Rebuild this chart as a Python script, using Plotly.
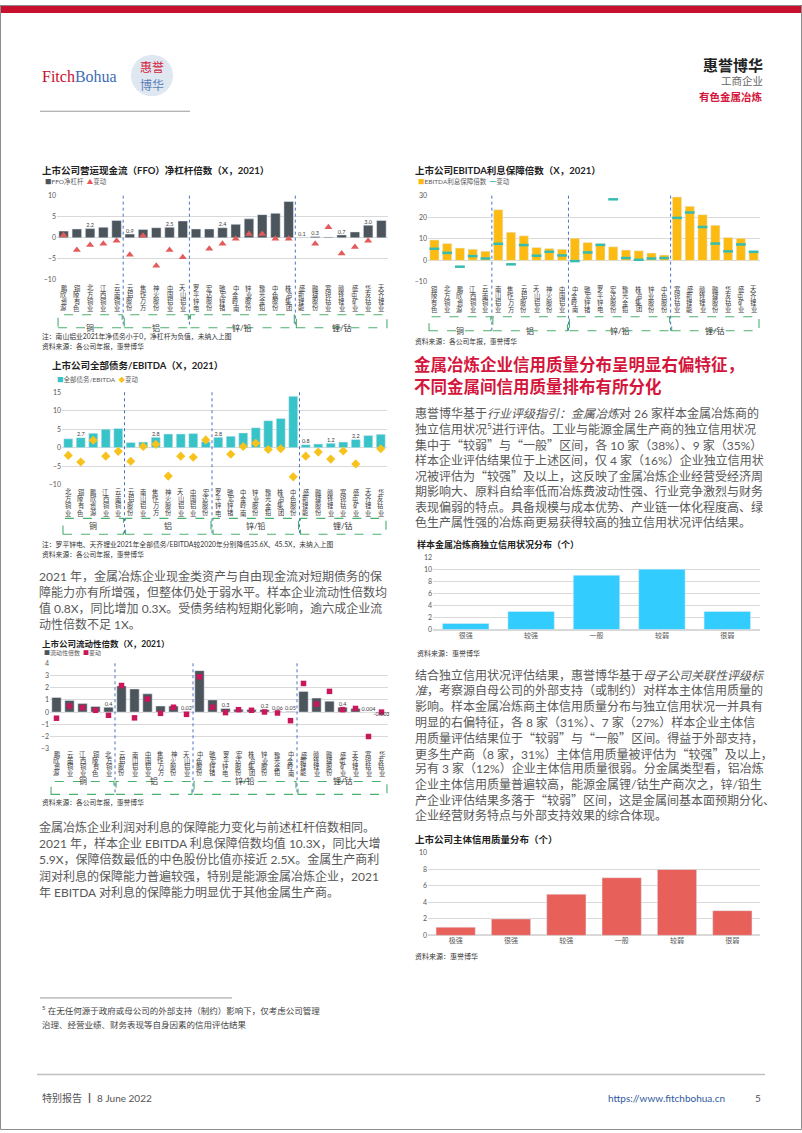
import plotly.graph_objects as go

W, H = 802, 1133
def X(px): return px / W
def Y(py): return 1 - py / H

CJK = "Lato, Noto Sans CJK SC, sans-serif"

# ---------------- data ----------------
ffo_names = ["鹏欣资源","铜陵有色","北方铜业","江西铜业","云南铜业",
             "云铝股份","焦作万方","神火股份","中国铝业","天山铝业",
             "罗平锌电","宏达股份","驰宏锌锗","中金岭南","锌业股份","豫光金铅","中色股份","株冶集团",
             "盛新锂能","融捷股份","寒锐钴业","赣锋锂业","盛屯矿业","华友钴业","天齐锂业"]
ffo_values = [1.6,2.1,2.2,2.5,4.1, 0.9,2.0,2.4,2.5,4.0, 2.1,2.1,2.4,3.2,4.5,5.5,5.8,8.6, 0.1,0.3,0.2,0.7,1.4,3.0,4.1]
ffo_change = [0.6,-2.9,-1.7,-1.4,-0.7, -4.0,0.5,-6.6,-2.9,-4.6, None,-2.6,-1.4,-0.2,0.9,0.9,-0.2,-0.2, None,-1.4,2.5,-3.7,-2.2,-0.7,None]
ffo_labelled = ["北方铜业","云铝股份","中国铝业","驰宏锌锗","盛新锂能","融捷股份","赣锋锂业","华友钴业"]
ffo_groups = [("铜",5),("铝",5),("锌/铅",8),("锂/钴",7)]

ebitda_names = ["铜陵有色","北方铜业","鹏欣资源","江西铜业","云南铜业",
                "南山铝业","焦作万方","云铝股份","天山铝业","神火股份","中国铝业",
                "中金岭南","驰宏锌锗","罗平锌电","宏达股份","豫光金铅","株冶集团","锌业股份","中色股份",
                "寒锐钴业","盛新锂能","赣锋锂业","融捷股份","华友钴业","盛屯矿业","天齐锂业"]
ebitda_values = [9.5,7.8,5.7,5.2,4.3, 23.5,13.1,11.4,6.0,5.5,5.2, 10.3,8.3,7.7,6.3,4.8,4.5,3.4,2.5, 29.4,25.1,21.2,16.3,10.6,10.3,4.2]
ebitda_change = [5.4,3.5,-2.9,2.0,0.9, 7.7,-1.8,7.1,2.2,4.0,2.3, -0.3,3.7,7.2,28.3,1.1,0.3,0.9,1.1, 19.7,22.2,15.5,7.8,4.2,7.4,4.0]
ebitda_groups = [("铜",5),("铝",6),("锌/铅",8),("锂/钴",7)]

debt_names = ["北方铜业","铜陵有色","鹏欣资源","江西铜业","云南铜业",
              "云铝股份","南山铝业","焦作万方","神火股份","天山铝业","中国铝业","宏达股份",
              "罗平锌电","驰宏锌锗","中金岭南","锌业股份","豫光金铅","株冶集团","中色股份",
              "盛新锂能","融捷股份","赣锋锂业","寒锐钴业","盛屯矿业","天齐锂业","华友钴业"]
debt_values = [2.4,2.7,3.9,5.0,5.2, 1.4,1.5,2.8,3.7,3.7,3.8,1.6, 2.8,3.1,4.0,5.4,7.3,7.9,13.9, 0.8,1.0,1.2,1.5,2.2,3.3,3.6]
debt_change = [-2.1,-3.9,2.0,-2.3,-1.0, -3.7,0.3,0.9,-7.7,-2.3,-2.6,2.1, None,-1.8,0.3,1.2,-0.5,-0.3,-7.9, -2.3,-1.2,-3.1,-0.9,-4.4,None,-0.3]
debt_labelled = ["铜陵有色","焦作万方","罗平锌电","盛新锂能","赣锋锂业","盛屯矿业"]
debt_groups = [("铜",5),("铝",7),("锌/铅",7),("锂/钴",7)]

liq_names = ["鹏欣资源","云南铜业","江西铜业","铜陵有色","北方铜业",
             "云铝股份","南山铝业","中国铝业","焦作万方","神火股份","天山铝业",
             "中色股份","驰宏锌锗","罗平锌电","宏达股份","株冶集团","锌业股份","豫光金铅","中金岭南",
             "盛新锂能","赣锋锂业","融捷股份","盛屯矿业","天齐锂业","寒锐钴业","华友钴业"]
liq_values = [1.2,0.96,0.7,0.47,0.4, 2.15,1.9,1.5,0.5,0.5,0.02, 3.4,1.0,0.3,0.23,0.22,0.2,0.06,0.05, 1.7,1.15,0.9,0.4,0.3,0.004,-0.003]
liq_change = [-0.5,0.5,0.37,0.15,-0.26, 2.18,-0.47,1.07,-0.1,0.4,-0.18, 2.9,0.4,-0.04,0.2,0.15,0.01,-0.07,-0.7, 2.35,0.66,1.7,0.2,0.3,-2.0,0.0]
liq_labelled = ["北方铜业","天山铝业","罗平锌电","锌业股份","豫光金铅","中金岭南","盛屯矿业","寒锐钴业","华友钴业"]
liq_groups = [("铜",5),("铝",6),("锌/铅",8),("锂/钴",7)]

sca_cats = ["很强","较强","一般","较弱","很弱"]
sca_counts = [1,3,9,10,3]
idr_cats = ["极强","很强","较强","一般","较弱","很弱"]
idr_counts = [1,2,5,7,8,3]

fig = go.Figure()
annotations = []
shapes = []
layout_axes = {}

def ax_names(n):
    s = "" if n == 1 else str(n)
    return "xaxis" + s, "yaxis" + s, "x" + s, "y" + s

QL = '<span style="font-family:Noto Sans CJK SC">“</span>'
QR = '<span style="font-family:Noto Sans CJK SC">”</span>'

def add_text(px, py, text, size=12, color="#595959", anchor="left", family=CJK, yanchor="middle"):
    text = text.replace("“", QL).replace("”", QR)
    annotations.append(dict(x=X(px), y=Y(py), xref="paper", yref="paper", text=text,
                            showarrow=False, xanchor=anchor, yanchor=yanchor,
                            font=dict(size=size, color=color, family=family)))

def company_chart(n, names, values, changes, labelled, groups, bar_color, mk, yrange, dtick,
                  xpx, ypx, label_top, pitch, box_top, box_bot):
    xa, ya, xr, yr = ax_names(n)
    layout_axes[xa] = dict(domain=[X(xpx[0]), X(xpx[1])], anchor=yr, type="category",
                           showticklabels=False, showgrid=False, zeroline=False, showline=False,
                           range=[-0.5, len(names) - 0.5], fixedrange=True)
    layout_axes[ya] = dict(domain=[Y(ypx[1]), Y(ypx[0])], anchor=xr, range=yrange, dtick=dtick,
                           gridcolor="#d9d9d9", gridwidth=1, zeroline=True, zerolinecolor="#d9d9d9",
                           zerolinewidth=1, showline=False, ticks="",
                           tickfont=dict(size=7, color="#595959", family=CJK), fixedrange=True)
    fig.add_trace(go.Bar(x=names, y=values, marker_color=bar_color, width=0.72, xaxis=xr, yaxis=yr,
                         showlegend=False))
    fig.add_trace(go.Scatter(x=names, y=changes, mode="markers", marker=mk, xaxis=xr, yaxis=yr,
                             showlegend=False, cliponaxis=False))
    if labelled:
        lx = [nm for nm in names if nm in labelled]
        lv = [v for nm, v in zip(names, values) if nm in labelled]
        fig.add_trace(go.Scatter(x=lx, y=lv, mode="text", text=[str(v) for v in lv],
                                 textposition=["top center" if v >= 0 else "bottom center" for v in lv],
                                 textfont=dict(size=5.5, color="#404040", family=CJK),
                                 xaxis=xr, yaxis=yr, showlegend=False, cliponaxis=False))
    # vertical category labels, one character per row
    for nm in names:
        for k, ch in enumerate(nm):
            annotations.append(dict(x=nm, xref=xr, y=Y(label_top + pitch * (k + 0.5)), yref="paper",
                                    text=ch, showarrow=False, xanchor="center", yanchor="middle",
                                    font=dict(size=6.3, color="#404040", family=CJK)))
    start = 0
    for gi, (g, cnt) in enumerate(groups):
        end = start + cnt - 1
        shapes.append(dict(type="rect", xref=xr, yref="paper", x0=start - 0.42, x1=end + 0.42,
                           y0=Y(box_bot), y1=Y(box_top), line=dict(color="#4cb06e", width=1.1, dash="dash")))
        annotations.append(dict(x=(start + end) / 2, xref=xr, y=Y((box_top + box_bot) / 2), yref="paper",
                                text=g, showarrow=False, font=dict(size=8, color="#333", family=CJK)))
        if gi < len(groups) - 1:
            shapes.append(dict(type="line", xref=xr, yref="paper", x0=end + 0.5, x1=end + 0.5,
                               y0=Y(ypx[0]), y1=Y(box_bot), line=dict(color="#4a72c8", width=1, dash="dot")))
        start = end + 1

def dist_chart(n, cats, counts, color, yrange, xpx, ypx):
    xa, ya, xr, yr = ax_names(n)
    layout_axes[xa] = dict(domain=[X(xpx[0]), X(xpx[1])], anchor=yr, type="category", showgrid=False,
                           showline=False, ticks="", tickfont=dict(size=7, color="#595959", family=CJK),
                           fixedrange=True)
    layout_axes[ya] = dict(domain=[Y(ypx[1]), Y(ypx[0])], anchor=xr, range=yrange, dtick=2,
                           gridcolor="#d9d9d9", zeroline=True, zerolinecolor="#d9d9d9", showline=False,
                           ticks="", tickfont=dict(size=7, color="#595959", family=CJK), fixedrange=True)
    fig.add_trace(go.Bar(x=cats, y=counts, marker_color=color, width=0.71, xaxis=xr, yaxis=yr,
                         showlegend=False))

company_chart(1, ffo_names, ffo_values, ffo_change, ffo_labelled, ffo_groups, "#4d555c",
              dict(symbol="triangle-up", size=7, color="#e35b5b"), [-10, 10], 5,
              (57, 388), (192, 277), 282, 6.5, 312, 325)
company_chart(2, ebitda_names, ebitda_values, ebitda_change, [], ebitda_groups, "#fdbb12",
              dict(symbol="line-ew", size=7, line=dict(color="#36bdb0", width=2.5)), [-10, 30], 10,
              (428, 760), (192, 279), 283, 6.7, 314, 328)
company_chart(3, debt_names, debt_values, debt_change, debt_labelled, debt_groups, "#38c3c8",
              dict(symbol="diamond", size=7, color="#f7c21b"), [-10, 15], 5,
              (62, 387), (390, 483), 487, 7.0, 517, 533)
company_chart(4, liq_names, liq_values, liq_change, liq_labelled, liq_groups, "#4d555c",
              dict(symbol="square", size=5.5, color="#c8175a"), [-3, 4], 1,
              (50, 388), (663, 749), 752, 6.0, 782, 795)
dist_chart(5, sca_cats, sca_counts, "#33ccff", [0, 12], (433, 760), (556, 629))
dist_chart(6, idr_cats, idr_counts, "#e8605a", [0, 10], (428, 760), (854, 937))

# ---------------- chart titles, legends, notes ----------------
TC = "#222222"
add_text(40, 167, "<b>上市公司营运现金流（FFO）净杠杆倍数（X，2021）</b>", 9.5, TC)
add_text(43, 178, '<span style="color:#4d555c">■</span>FFO净杠杆  <span style="color:#e35b5b">▲</span>变动', 6.5, "#595959")
add_text(40, 334, "注：南山铝业2021年净债务小于0，净杠杆为负值，未纳入上图", 6.8, "#333")
add_text(40, 344, "资料来源：各公司年报，惠誉博华", 6.8, "#333")

add_text(413, 167, "<b>上市公司EBITDA利息保障倍数（X，2021）</b>", 9.5, TC)
add_text(416, 178, '<span style="color:#fdbb12">■</span>EBITDA利息保障倍数  <span style="color:#36bdb0">━</span>变动', 6.5, "#595959")
add_text(413, 339, "资料来源：各公司年报，惠誉博华", 6.8, "#333")

add_text(50, 363, "<b>上市公司全部债务/EBITDA（X，2021）</b>", 9.5, TC)
add_text(55, 377, '<span style="color:#38c3c8">■</span>全部债务/EBITDA  <span style="color:#f7c21b">◆</span>变动', 6.5, "#595959")
add_text(40, 543, "注：罗平锌电、天齐锂业2021年全部债务/EBITDA较2020年分别降低35.6X、45.5X，未纳入上图", 6.8, "#333")
add_text(40, 553, "资料来源：各公司年报，惠誉博华", 6.8, "#333")

add_text(40, 644, "<b>上市公司流动性倍数（X，2021）</b>", 8.5, TC)
add_text(42, 653, '<span style="color:#4d555c">■</span>流动性倍数  <span style="color:#c8175a">■</span>变动', 6, "#595959")
add_text(40, 803, "资料来源：各公司年报，惠誉博华", 6.8, "#333")

add_text(415, 543, "<b>样本金属冶炼商独立信用状况分布（个）</b>", 9, TC)
add_text(415, 653, "资料来源：惠誉博华", 7, "#333")
add_text(413, 840, "<b>上市公司主体信用质量分布（个）</b>", 9.5, TC)
add_text(413, 958, "资料来源：惠誉博华", 7, "#333")

# ---------------- body text ----------------
BODY = "#595959"
left_p1 = ["2021 年，金属冶炼企业现金类资产与自由现金流对短期债务的保",
           "障能力亦有所增强，但整体仍处于弱水平。样本企业流动性倍数均",
           "值 0.8X，同比增加 0.3X。受债务结构短期化影响，逾六成企业流",
           "动性倍数不足 1X。"]
for i, ln in enumerate(left_p1):
    add_text(37, 576 + 16 * i, ln, 12, BODY)

left_p2 = ["金属冶炼企业利润对利息的保障能力变化与前述杠杆倍数相同。",
           "2021 年，样本企业 EBITDA 利息保障倍数均值 10.3X，同比大增",
           "5.9X，保障倍数最低的中色股份比值亦接近 2.5X。金属生产商利",
           "润对利息的保障能力普遍较强，特别是能源金属冶炼企业，2021",
           "年 EBITDA 对利息的保障能力明显优于其他金属生产商。"]
for i, ln in enumerate(left_p2):
    add_text(37, 828 + 16.5 * i, ln, 12, BODY)

add_text(412, 363, "<b>金属冶炼企业信用质量分布呈明显右偏特征，</b>", 16.5, "#d4163c")
add_text(412, 385, "<b>不同金属间信用质量排布有所分化</b>", 16.5, "#d4163c")

right_p1 = ["惠誉博华基于<i>行业评级指引：金属冶炼</i>对 26 家样本金属冶炼商的",
            "独立信用状况<sup>5</sup>进行评估。工业与能源金属生产商的独立信用状况",
            "集中于“较弱”与“一般”区间，各 10 家（38%）、9 家（35%）",
            "样本企业评估结果位于上述区间，仅 4 家（16%）企业独立信用状",
            "况被评估为“较强”及以上，这反映了金属冶炼企业经营受经济周",
            "期影响大、原料自给率低而冶炼费波动性强、行业竞争激烈与财务",
            "表现偏弱的特点。具备规模与成本优势、产业链一体化程度高、绿",
            "色生产属性强的冶炼商更易获得较高的独立信用状况评估结果。"]
for i, ln in enumerate(right_p1):
    add_text(413, 411 + 15.8 * i, ln, 12, BODY)

right_p2 = ["结合独立信用状况评估结果，惠誉博华基于<i>母子公司关联性评级标</i>",
            "<i>准</i>，考察源自母公司的外部支持（或制约）对样本主体信用质量的",
            "影响。样本金属冶炼商主体信用质量分布与独立信用状况一并具有",
            "明显的右偏特征，各 8 家（31%）、7 家（27%）样本企业主体信",
            "用质量评估结果位于“较弱”与“一般”区间。得益于外部支持，",
            "更多生产商（8 家，31%）主体信用质量被评估为“较强”及以上，",
            "另有 3 家（12%）企业主体信用质量很弱。分金属类型看，铝冶炼",
            "企业主体信用质量普遍较高，能源金属锂/钴生产商次之，锌/铅生",
            "产企业评估结果多落于“较弱”区间，这是金属间基本面预期分化、",
            "企业经营财务特点与外部支持效果的综合体现。"]
for i, ln in enumerate(right_p2):
    add_text(413, 675 + 15.7 * i, ln, 12, BODY)

# ---------------- header / footer ----------------
shapes.append(dict(type="rect", xref="paper", yref="paper", x0=0, x1=1, y0=Y(8), y1=1,
                   fillcolor="#c8102e", line=dict(width=0)))
shapes.append(dict(type="rect", xref="paper", yref="paper", x0=X(0.5), x1=X(801.5), y0=Y(1132.5), y1=Y(0.5),
                   line=dict(color="#8c8c8c", width=1)))
add_text(40, 72, '<span style="color:#c8102e">Fitch</span><span style="color:#3d6db5">Bohua</span>', 16,
         family="Liberation Serif, serif")
shapes.append(dict(type="circle", xref="paper", yref="paper", x0=X(131), x1=X(173), y0=Y(92), y1=Y(50),
                   fillcolor="#dfe7f1", line=dict(width=0)))
add_text(152, 62, '<span style="color:#d2263c">惠誉</span>', 12, anchor="center", family="Noto Sans CJK SC")
add_text(152, 80, '<span style="color:#5b7fb8">博华</span>', 12, anchor="center", family="Noto Sans CJK SC")
shapes.append(dict(type="line", xref="paper", yref="paper", x0=X(40), x1=X(190), y0=Y(107), y1=Y(107),
                   line=dict(color="#9a9a9a", width=1)))

add_text(765, 60, "<b>惠誉博华</b>", 15, "#222", anchor="right")
add_text(765, 77, "工商企业", 10.5, "#666", anchor="right")
add_text(765, 93, "<b>有色金属冶炼</b>", 10.5, "#d4163c", anchor="right")

shapes.append(dict(type="line", xref="paper", yref="paper", x0=X(40), x1=X(232), y0=Y(1000), y1=Y(1000),
                   line=dict(color="#9a9a9a", width=1)))
add_text(40, 1012, "<sup>5</sup> 在无任何源于政府或母公司的外部支持（制约）影响下，仅考虑公司管理", 8.5, "#444")
add_text(40, 1027, "治理、经营业绩、财务表现等自身因素的信用评估结果", 8.5, "#444")

shapes.append(dict(type="line", xref="paper", yref="paper", x0=X(37), x1=X(765), y0=Y(1077), y1=Y(1077),
                   line=dict(color="#c0c0c0", width=1.5)))
add_text(40, 1101, "特别报告 ┃ 8 June 2022", 10, "#555")
add_text(727, 1101, "https://www.fitchbohua.cn", 10, "#2f5a9e", anchor="right")
add_text(763, 1101, "5", 10, "#555", anchor="right")

fig.update_layout(width=W, height=H, margin=dict(l=0, r=0, t=0, b=0), paper_bgcolor="white",
                  plot_bgcolor="white", showlegend=False, annotations=annotations, shapes=shapes,
                  font=dict(family=CJK), **layout_axes)

fig.write_html("out.html", config={"displayModeBar": False},
               post_script="document.body.style.margin='0px';")
